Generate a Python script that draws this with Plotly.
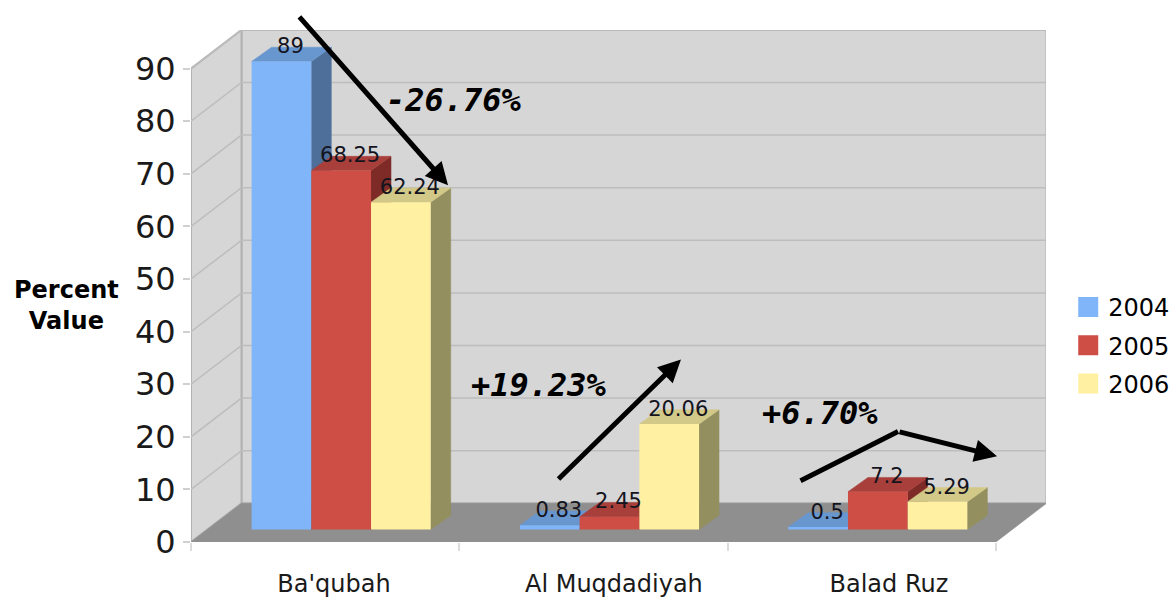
import plotly.graph_objects as go

categories = ["Ba'qubah", "Al Muqdadiyah", "Balad Ruz"]
years = ["2004", "2005", "2006"]
values_2004 = [89, 0.83, 0.5]
values_2005 = [68.25, 2.45, 7.2]
values_2006 = [62.24, 20.06, 5.29]
label_2004 = ["89", "0.83", "0.5"]
label_2005 = ["68.25", "2.45", "7.2"]
label_2006 = ["62.24", "20.06", "5.29"]
y_ticks = [0, 10, 20, 30, 40, 50, 60, 70, 80, 90]
category_label_pos = [0.533, 1.576, 2.601]
change_texts = ["-26.76%", "+19.23%", "+6.70%"]
change_x = [0.98, 1.297, 2.345]
change_y = [83.97, 29.79, 24.46]
# arrows in axis units: tail x, tail y, head x, head y, head?
arrows = [
    (0.399, 100.1, 0.958, 67.8, True),
    (1.364, 11.7, 1.826, 34.7, True),
    (2.266, 11.5, 2.635, 21.0, False),
    (2.635, 21.0, 3.004, 16.3, True),
]

front_colors = ["#80b6f9", "#ce4e46", "#fff0a2"]
top_colors = ["#6896cf", "#a83f3a", "#d2c887"]
side_colors = ["#4e6f99", "#7e2b27", "#938f5f"]
wall_color = "#d6d6d6"
edge_color = "#b2b2b2"
grid_color = "#bdbdbd"
floor_color = "#8f8f8f"

PLOT_L, PLOT_R, PLOT_T, PLOT_B = 191, 1046, 30, 542
PX_X = 268.33
PX_Y = 5.26
x_range = [0, (PLOT_R - PLOT_L) / PX_X]
y_range = [0, (PLOT_B - PLOT_T) / PX_Y]
n_cat = len(categories)

wall_dx, wall_dy = 50.5 / PX_X, 38.7 / PX_Y
bar_w = 59.7 / PX_X
bar_shift = 16 / PX_X
bar_base = 12.4 / PX_Y
depth_x, depth_y = 20 / PX_X, 14.3 / PX_Y
text_dx, text_dy = 9 / PX_X, 13.5 / PX_Y

series = [values_2004, values_2005, values_2006]
labels = [label_2004, label_2005, label_2006]

fig = go.Figure()


def poly(xs, ys, color, line=None, width=0):
    fig.add_trace(go.Scatter(
        x=xs + xs[:1], y=ys + ys[:1], mode="lines", fill="toself", fillcolor=color,
        line=dict(color=line or color, width=width if line else 0.5),
        hoverinfo="skip", showlegend=False, xaxis="x", yaxis="y"))


# walls and floor
poly([wall_dx, n_cat + wall_dx, n_cat + wall_dx, wall_dx],
     [wall_dy, wall_dy, y_ticks[-1] + wall_dy, y_ticks[-1] + wall_dy], wall_color, edge_color, 2)
poly([0, wall_dx, wall_dx, 0],
     [0, wall_dy, y_ticks[-1] + wall_dy, y_ticks[-1]], wall_color, edge_color, 2)
poly([0, n_cat, n_cat + wall_dx, wall_dx], [0, 0, wall_dy, wall_dy], floor_color)

# grid lines
gx, gy = [], []
for t in y_ticks[1:]:
    gx += [0, wall_dx, n_cat + wall_dx, None]
    gy += [t, t + wall_dy, t + wall_dy, None]
fig.add_trace(go.Scatter(x=gx, y=gy, mode="lines", line=dict(color=grid_color, width=1.5),
                         hoverinfo="skip", showlegend=False, xaxis="x", yaxis="y"))


def bar_left(i, s):
    return i + 0.5 + bar_shift + (s - 1.5) * bar_w


# bar depth faces, drawn back to front, left to right
for i in range(n_cat):
    for s, vals in enumerate(series):
        x0 = bar_left(i, s)
        x1 = x0 + bar_w
        top = vals[i] + bar_base
        poly([x1, x1 + depth_x, x1 + depth_x, x1],
             [bar_base, bar_base + depth_y, top + depth_y, top], side_colors[s])
        poly([x0, x1, x1 + depth_x, x0 + depth_x],
             [top, top, top + depth_y, top + depth_y], top_colors[s])

# front faces
for s, vals in enumerate(series):
    fig.add_trace(go.Bar(
        x=[bar_left(i, s) + bar_w / 2 for i in range(n_cat)], y=vals,
        base=[bar_base] * n_cat, width=bar_w,
        marker=dict(color=front_colors[s], line=dict(width=0)),
        hoverinfo="skip", showlegend=False, xaxis="x2", yaxis="y2"))

# value labels
for s, vals in enumerate(series):
    fig.add_trace(go.Scatter(
        x=[bar_left(i, s) + bar_w / 2 + text_dx for i in range(n_cat)],
        y=[v + bar_base + text_dy for v in vals],
        text=labels[s], mode="text", textposition="middle center",
        textfont=dict(family="DejaVu Sans", size=21, color="#14141e"),
        hoverinfo="skip", showlegend=False, xaxis="x2", yaxis="y2", cliponaxis=False))

# legend entries
for s, yr in enumerate(years):
    fig.add_trace(go.Scatter(
        x=[None], y=[None], mode="markers", name=yr, legendgroup=yr,
        marker=dict(symbol="square", size=16, color=front_colors[s],
                    line=dict(color=front_colors[s], width=4)),
        xaxis="x2", yaxis="y2"))

annotations = []
for (tx, ty, hx, hy, head) in arrows:
    annotations.append(dict(
        x=hx, y=hy, ax=tx, ay=ty, xref="x2", yref="y2", axref="x2", ayref="y2",
        text="", showarrow=True, arrowhead=2 if head else 0, arrowsize=0.9,
        arrowwidth=5, arrowcolor="#000000", standoff=0, startstandoff=0))
for t, x, y in zip(change_texts, change_x, change_y):
    annotations.append(dict(
        x=x, y=y, xref="x2", yref="y2", text=f"<b><i>{t}</i></b>", showarrow=False,
        font=dict(family="DejaVu Sans Mono", size=32, color="#000000"),
        xanchor="center", yanchor="middle"))
annotations.append(dict(
    x=-0.146, y=0.461, xref="paper", yref="paper", text="<b>Percent<br>Value</b>", showarrow=False,
    font=dict(family="DejaVu Sans", size=24, color="#000000"),
    xanchor="center", yanchor="middle", align="center"))

fig.update_layout(
    width=1175, height=600, autosize=False,
    margin=dict(l=PLOT_L, r=1175 - PLOT_R, t=PLOT_T, b=600 - PLOT_B, pad=0, autoexpand=False),
    paper_bgcolor="#ffffff", plot_bgcolor="#ffffff",
    barmode="overlay",
    showlegend=True,
    legend=dict(x=1.026, y=0.502, xanchor="left", yanchor="top",
                font=dict(family="DejaVu Sans", size=24, color="#000000"),
                tracegroupgap=4, itemclick=False, itemdoubleclick=False,
                bgcolor="rgba(0,0,0,0)", borderwidth=0),
    annotations=annotations,
    xaxis=dict(range=x_range, tickvals=list(range(n_cat + 1)), ticktext=[""] * (n_cat + 1),
               ticks="outside", ticklen=8, tickcolor="#dcdcdc", tickwidth=1.5,
               showgrid=False, zeroline=False, showline=False, fixedrange=True),
    yaxis=dict(range=y_range, tickvals=y_ticks, ticks="outside", ticklen=7,
               tickcolor="#d0d0d0", tickwidth=1.5, showgrid=False, zeroline=False,
               showline=False, ticklabelstandoff=1, fixedrange=True,
               tickfont=dict(family="DejaVu Sans", size=32, color="#1a1a1a")),
    xaxis2=dict(range=x_range, overlaying="x", anchor="y2", side="bottom",
                tickvals=category_label_pos, ticktext=categories, ticks="", ticklabelstandoff=25,
                tickfont=dict(family="DejaVu Sans", size=24, color="#1a1a1a"),
                showgrid=False, zeroline=False, showline=False, fixedrange=True),
    yaxis2=dict(range=y_range, overlaying="y", anchor="x2", visible=False, fixedrange=True,
                showgrid=False, zeroline=False),
)
fig.write_html("out.html", post_script="document.body.style.margin='0';",
               config={"displayModeBar": False})
